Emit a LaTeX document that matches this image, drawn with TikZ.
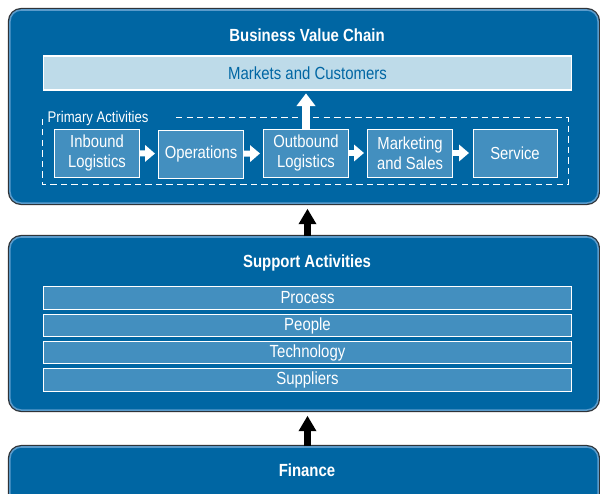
\documentclass[tikz,border=0pt]{standalone}
\usepackage{fontspec}
\setmainfont{Liberation Sans}[FakeStretch=0.85]
\usetikzlibrary{arrows.meta}
\definecolor{vc}{HTML}{0066A3}
\definecolor{vcbox}{HTML}{438FBF}
\definecolor{vclight}{HTML}{BEDBE9}
\definecolor{vcedge}{HTML}{2E3338}
\definecolor{vcrim}{HTML}{5A9BCB}

\tikzset{
	panel/.style={fill=vc, draw=vcrim, line width=1.1pt, rounded corners=8pt, minimum width=14.7cm,
		preaction={draw=vcedge, line width=2.9pt}},
	title/.style={text=white, font=\fontsize{12.5}{14}\selectfont\bfseries},
	act/.style={fill=vcbox, draw=white, line width=0.7pt, text=white, align=center, inner sep=0pt,
		minimum width=2.1cm, minimum height=1.2cm, font=\fontsize{12.4}{14.3}\selectfont},
	bar/.style={fill=vcbox, draw=white, line width=0.7pt, text=white, inner sep=0pt,
		minimum width=13.175cm, minimum height=0.57cm, font=\fontsize{12.5}{13.5}\selectfont},
	flow/.style={white, line width=4.3pt, -{Triangle[length=7pt,width=11.5pt]}},
	lift/.style={black, line width=4.3pt, -{Triangle[length=11pt,width=12pt]}},
}

\begin{document}
\begin{tikzpicture}[x=0.025cm, y=-0.025cm]
	\useasboundingbox (0,0) rectangle (600,494);
	% three stacked panels
	\node[panel, minimum height=4.825cm] (chain) at (304,106.5) {};
	\node[panel, minimum height=4.325cm] (support) at (304,323.5) {};
	\node[panel, minimum height=1.45cm] (finance) at (304,476) {};

	\node[title] (chaintitle) at (307,35) {Business Value Chain};
	\node[fill=vclight, draw=white, line width=0.8pt, text=vc, inner sep=0pt, minimum width=13.175cm,
		minimum height=0.85cm, font=\fontsize{12.5}{14}\selectfont] (markets) at (307.5,73) {Markets and Customers};

	% primary activities
	\draw [white, dash pattern=on 4.5pt off 3pt, line width=0.6pt] (176,117) -| (568,184) -| (42,117);
	\node[anchor=west, text=white, inner sep=1pt, font=\fontsize{11}{13}\selectfont] (primary) at (46,118) {Primary Activities};
	\node[act] (inbound) at (97,153) {Inbound\\Logistics};
	\node[act] (operations) at (201,154) {Operations};
	\node[act] (outbound) at (306,153) {Outbound\\Logistics};
	\node[act] (marketing) at (410,153) {Marketing\\and Sales};
	\node[act] (service) at (515,153) {Service};
	\draw [flow, shorten >=2.5pt] (inbound) -- (operations);
	\draw [flow, shorten >=2.5pt] (operations) -- (outbound);
	\draw [flow, shorten >=2.5pt] (outbound) -- (marketing);
	\draw [flow, shorten >=2.5pt] (marketing) -- (service);
	\draw [flow, line width=5.7pt, -{Triangle[length=9pt,width=13pt]}, shorten >=2pt] (outbound) -- (outbound |- markets.south);

	% support activities
	\node[title] (supporttitle) at (307,263) {Support Activities};
	\node[bar] (process) at (307.5,298) {Process};
	\node[bar] (people) at (307.5,325.5) {People};
	\node[bar] (technology) at (307.5,352.5) {Technology};
	\node[bar] (suppliers) at (307.5,380) {Suppliers};

	\node[title] (financetitle) at (307,470) {Finance};

	\draw [lift] (support.north -| process) -- ([yshift=-3.5pt]chain.south -| process);
	\draw [lift] (finance.north -| process) -- ([yshift=-3.5pt]support.south -| process);
\end{tikzpicture}
\end{document}
